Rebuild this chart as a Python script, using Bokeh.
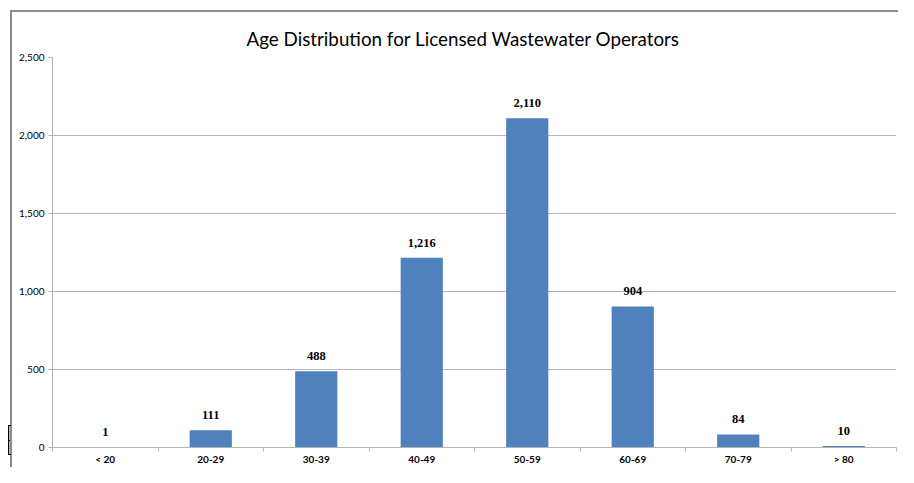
from bokeh.plotting import figure
from bokeh.models import (ColumnDataSource, Range1d, LinearAxis,
                          FixedTicker, NumeralTickFormatter, LabelSet)
from bokeh.embed import file_html
from bokeh.resources import INLINE

# ---- data ----
categories = ["< 20", "20-29", "30-39", "40-49", "50-59", "60-69", "70-79", "> 80"]
counts = [1, 111, 488, 1216, 2110, 904, 84, 10]
y_ticks = [0, 500, 1000, 1500, 2000, 2500]
title_text = "Age Distribution for Licensed Wastewater Operators"

n = len(categories)
pos = list(range(n))
labels = [f"{c:,}" for c in counts]
src = ColumnDataSource(dict(x=pos, count=counts, label=labels))

FONT = "Lato"
GRID = "#b4b4b4"
BAR = "#4F81BD"
FRAME = "#8c8c8c"

p = figure(x_range=Range1d(-0.5, n - 0.5), y_range=Range1d(0, 2500),
           width=898, height=467,
           output_backend="svg", toolbar_location=None, x_axis_location=None,
           min_border_left=52, min_border_right=2, min_border_top=57,
           min_border_bottom=20)

# chart-area border (top and left edges) drawn behind a transparent canvas border
def bar_css(color, x, y, w, h):
    return f"linear-gradient({color},{color}) {x}px {y}px / {w} {h} no-repeat"

p.border_fill_color = None
p.background_fill_color = "white"
p.styles = {"background": ", ".join([
    bar_css("#000", 8, 425, "1px", "30px"),
    bar_css("#000", 8, 425, "3px", "1px"),
    bar_css("#000", 8, 454, "3px", "1px"),
    bar_css("#000", 8, 440, "2px", "1px"),
    bar_css(FRAME, 10, 10, "100%", "2px"),
    bar_css(FRAME, 10, 10, "2px", "100%"),
    bar_css("#e9a3a8", 9, 425, "2px", "30px"),
]) + ", white"}

p.title.text = title_text
p.title.align = "left"
p.title.offset = 194
p.title.text_font = FONT
p.title.text_font_size = "18.8px"
p.title.text_font_style = "normal"
p.title.text_color = "black"
p.title.standoff = 15
p.outline_line_color = None

p.xgrid.grid_line_color = None
p.ygrid.grid_line_color = GRID
p.ygrid.grid_line_width = 1

p.yaxis.ticker = FixedTicker(ticks=y_ticks)
p.yaxis.formatter = NumeralTickFormatter(format="0,0")
p.yaxis.axis_line_color = GRID
p.yaxis.major_tick_line_color = GRID
p.yaxis.major_tick_out = 4
p.yaxis.major_tick_in = 0
p.yaxis.minor_tick_line_color = None
p.yaxis.major_label_standoff = 4
p.yaxis.major_label_text_font = FONT
p.yaxis.major_label_text_font_size = "10px"
p.yaxis.major_label_text_color = "black"

# category names at bar centres, small ticks on the boundaries between them
cat_axis = LinearAxis(ticker=FixedTicker(ticks=pos,
                                         minor_ticks=[i - 0.5 for i in range(n + 1)]),
                      major_label_overrides={i: c for i, c in zip(pos, categories)},
                      axis_line_color=GRID,
                      major_tick_line_color=None, major_tick_out=4, major_tick_in=0,
                      minor_tick_line_color=GRID, minor_tick_out=4, minor_tick_in=0,
                      major_label_standoff=1,
                      major_label_text_font=FONT,
                      major_label_text_font_size="10px",
                      major_label_text_font_style="bold",
                      major_label_text_color="black")
p.add_layout(cat_axis, "below")

p.vbar(x="x", top="count", width=0.4, source=src, fill_color=BAR, line_color=None)

lbls = LabelSet(x="x", y="count", text="label", source=src,
                text_align="center", text_baseline="middle", y_offset=15,
                text_font=FONT, text_font_size="12.5px", text_font_style="bold",
                text_color="black")
p.add_layout(lbls)

open("out.html", "w").write(file_html(p, INLINE))
